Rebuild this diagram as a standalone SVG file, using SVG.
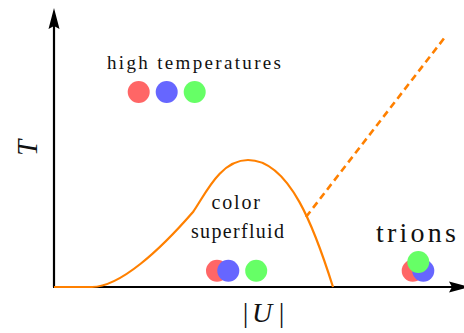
<svg xmlns="http://www.w3.org/2000/svg" width="464" height="333" viewBox="0 0 464 333">
<style>
.lbl{font-family:"Liberation Serif","Times New Roman",serif;fill:#111}
.ax{stroke:#000;stroke-width:2.2;fill:none}
.head{fill:#000}
.r{fill:#FF6666}.b{fill:#6666FF}.g{fill:#66FF66}
.curve{stroke:#FF8000;stroke-width:2.2;fill:none}
.dash{stroke:#FF8000;stroke-width:2.6;fill:none;stroke-dasharray:7 4.5}
</style>
<rect width="464" height="333" fill="#fff"/>
<g id="axes">
<line class="ax" x1="54" y1="287" x2="54" y2="24"/>
<path class="head" d="M54,8 L59.5,29 L54,26 L48.5,29 Z"/>
<line class="ax" x1="53" y1="287" x2="455" y2="287"/>
<path class="head" d="M470,287 L449,292.5 L452,287 L449,281.5 Z"/>
<text class="lbl" transform="translate(37,148) rotate(-90)" font-size="29" font-style="italic" text-anchor="middle">T</text>
<text class="lbl" x="245.5" y="322" font-size="28" text-anchor="middle">|</text>
<text class="lbl" x="262" y="322" font-size="28" font-style="italic" text-anchor="middle">U</text>
<text class="lbl" x="281.5" y="322" font-size="28" text-anchor="middle">|</text>
</g>
<g id="connectors">
<path class="curve" d="M54,287 L92,287 C120,287 160,250 193,212 C205,195 220,160 248,160 C290,160 315,230 333,287"/>
<line class="dash" x1="306" y1="217" x2="444.7" y2="37.5"/>
</g>
<g id="high-temperatures">
<text class="lbl" x="107" y="69" font-size="19" textLength="174" lengthAdjust="spacing">high temperatures</text>
<circle class="r" cx="138.7" cy="92" r="11"/>
<circle class="b" cx="166.7" cy="92" r="11"/>
<circle class="g" cx="194.7" cy="92" r="11"/>
</g>
<g id="color-superfluid">
<text class="lbl" x="211.5" y="209" font-size="20" textLength="48.5" lengthAdjust="spacing">color</text>
<text class="lbl" x="191" y="238" font-size="20" textLength="93" lengthAdjust="spacing">superfluid</text>
<circle class="r" cx="217" cy="270.7" r="11"/>
<circle class="b" cx="228.3" cy="270.7" r="11"/>
<circle class="g" cx="256.2" cy="270.7" r="11"/>
</g>
<g id="trions">
<text class="lbl" x="376" y="242" font-size="28" textLength="80" lengthAdjust="spacing">trions</text>
<circle class="r" cx="412.7" cy="270.7" r="11"/>
<circle class="b" cx="423.3" cy="270.7" r="11"/>
<circle class="g" cx="418.3" cy="262" r="11"/>
</g>
</svg>
